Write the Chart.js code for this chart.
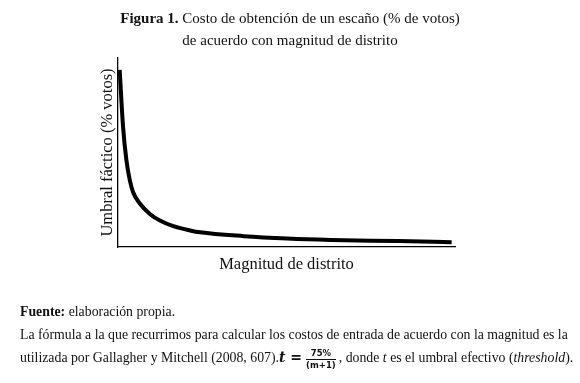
<!DOCTYPE html>
<html>
<head>
<meta charset="utf-8">
<script src="https://cdn.jsdelivr.net/npm/chart.js@4"></script>
<style>
  body { margin: 0; background: #fff; }
  #wrap { position: relative; width: 580px; height: 383px; overflow: hidden; font-family: "Liberation Serif", serif; color: #111; }
  #chart { position: absolute; left: 0; top: 0; }
  .title { position: absolute; left: 0; top: 7px; width: 580px; text-align: center; font-size: 15px; line-height: 22px; }
  .notes { position: absolute; left: 20px; top: 300px; width: 560px; font-size: 13.8px; line-height: 23px; white-space: nowrap; }
  .frac { display: inline-block; vertical-align: middle; text-align: center; font-family: "DejaVu Sans", sans-serif; font-weight: bold; font-size: 8.5px; line-height: 10px; margin: 0 3px 0 4px; }
  .frac .num { border-bottom: 1px solid #111; padding: 0 2px 1px; }
  .eq { font-family: "DejaVu Serif", serif; font-weight: bold; font-style: italic; font-size: 14px; }
</style>
</head>
<body>
<div id="wrap">
  <canvas id="chart" width="580" height="383"></canvas>
  <div class="title"><b>Figura 1.</b> Costo de obtención de un escaño (% de votos)<br>de acuerdo con magnitud de distrito</div>
  <div class="notes">
    <b>Fuente:</b> elaboración propia.<br>
    La fórmula a la que recurrimos para calcular los costos de entrada de acuerdo con la magnitud es la<br>
    utilizada por Gallagher y Mitchell (2008, 607).<span class="eq">t =</span><span class="frac"><div class="num">75%</div><div>(m+1)</div></span>, donde <i>t</i> es el umbral efectivo (<i>threshold</i>).
  </div>
</div>
<script>
// magnitud de distrito
const magnitudes = [1, 2, 3, 4, 5, 7, 10, 13, 17, 22, 25, 38, 51, 64, 84, 100];
// umbral fáctico, % de votos
const thresholds = [37.5, 25.5, 18.4, 14.2, 11.6, 9.2, 7.0, 5.6, 4.4, 3.5, 3.1, 2.3, 1.8, 1.5, 1.25, 1.0];

const points = magnitudes.map((m, i) => ({ x: m, y: thresholds[i] }));

const ctx = document.getElementById("chart");

new Chart(ctx, {
  type: "line",
  data: {
    datasets: [
      {
        data: points,
        borderColor: "#000",
        borderWidth: 4,
        pointRadius: 0,
        fill: false,
        cubicInterpolationMode: "monotone",
      },
    ],
  },
  options: {
    responsive: false,
    animation: false,
    layout: { padding: { left: 88, top: 58, right: 125, bottom: 106 } },
    plugins: { legend: { display: false }, tooltip: { enabled: false } },
    scales: {
      x: {
        type: "linear",
        min: 0.5,
        max: 101,
        grid: { display: false },
        border: { display: true, color: "#000", width: 1.3 },
        ticks: { display: false },
        title: {
          display: true,
          text: "Magnitud de distrito",
          color: "#111",
          font: { family: "Liberation Serif", size: 16.5 },
          padding: { top: 0, bottom: 2 },
        },
        afterFit: (scale) => { scale.height = 30; },
      },
      y: {
        min: 0,
        max: 40,
        grid: { display: false },
        border: { display: true, color: "#000", width: 1.3 },
        ticks: { display: false },
        title: {
          display: true,
          text: "Umbral fáctico (% votos)",
          color: "#111",
          font: { family: "Liberation Serif", size: 16.5 },
          padding: { top: 10, bottom: 0 },
        },
        afterFit: (scale) => { scale.width = 30; },
      },
    },
  },
});
</script>
</body>
</html>
